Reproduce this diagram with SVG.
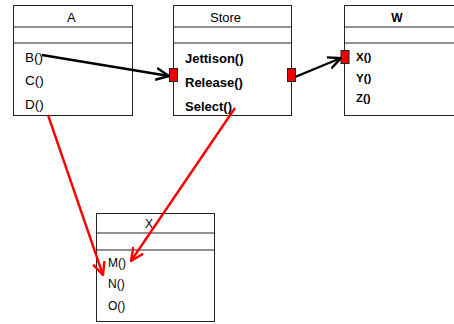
<svg xmlns="http://www.w3.org/2000/svg" width="454" height="324" viewBox="0 0 454 324">
  <style>
    .box { fill: #ffffff; stroke: #222222; stroke-width: 1; }
    .div { stroke: #222222; stroke-width: 1; }
    .t { font-family: "Liberation Sans", Arial, sans-serif; font-size: 13px; fill: #000000; }
    .b { font-weight: bold; }
    .m { font-size: 13.5px; }
    .s { font-size: 11.5px; }
    .xs { font-size: 12px; }
    .port { fill: #ee0000; stroke: #222222; stroke-width: 1; }
    .blk { stroke: #000000; stroke-width: 2.4; fill: none; }
    .red { stroke: #ff0000; stroke-width: 2.4; fill: none; }
  </style>
  <defs>
    <marker id="openBlack" viewBox="0 0 14 14" refX="13" refY="7" markerWidth="14" markerHeight="14" markerUnits="userSpaceOnUse" orient="auto">
      <path d="M0,1 L13,7 L0,13" fill="none" stroke="#000000" stroke-width="2.4"/>
    </marker>
    <marker id="openRed" viewBox="0 0 14 14" refX="13" refY="7" markerWidth="14" markerHeight="14" markerUnits="userSpaceOnUse" orient="auto">
      <path d="M0,1 L13,7 L0,13" fill="none" stroke="#ff0000" stroke-width="2.4"/>
    </marker>
  </defs>
  <rect width="454" height="324" fill="#ffffff"/>

  <g id="A">
    <rect class="box" x="13.5" y="5.5" width="119" height="110"/>
    <line class="div" x1="13.5" y1="27" x2="132.5" y2="27"/>
    <line class="div" x1="13.5" y1="43" x2="132.5" y2="43"/>
    <text class="t" x="67" y="22">A</text>
    <text class="t m" x="25" y="62">B()</text>
    <text class="t m" x="25" y="85">C()</text>
    <text class="t m" x="25" y="109">D()</text>
  </g>

  <g id="Store">
    <rect class="box" x="173.5" y="5.5" width="118" height="110"/>
    <line class="div" x1="173.5" y1="27" x2="291.5" y2="27"/>
    <line class="div" x1="173.5" y1="43" x2="291.5" y2="43"/>
    <text class="t" x="210" y="22">Store</text>
    <text class="t b" x="185" y="63">Jettison()</text>
    <text class="t b" x="185" y="87">Release()</text>
    <text class="t b" x="185" y="111">Select()</text>
    <rect class="port" x="169.5" y="68.5" width="8" height="13"/>
    <rect class="port" x="287.5" y="68.5" width="8" height="13"/>
  </g>

  <g id="W">
    <rect class="box" x="344.5" y="5.5" width="120" height="110"/>
    <line class="div" x1="344.5" y1="27" x2="464" y2="27"/>
    <line class="div" x1="344.5" y1="43" x2="464" y2="43"/>
    <text class="t b xs" x="397" y="22" text-anchor="middle">W</text>
    <text class="t b s" x="356" y="61">X()</text>
    <text class="t b s" x="356" y="82">Y()</text>
    <text class="t b s" x="356" y="102">Z()</text>
    <rect class="port" x="341" y="50.5" width="8" height="13"/>
  </g>

  <g id="X">
    <rect class="box" x="96.5" y="213.5" width="118" height="108"/>
    <line class="div" x1="96.5" y1="233" x2="214.5" y2="233"/>
    <line class="div" x1="96.5" y1="250" x2="214.5" y2="250"/>
    <text class="t xs" x="149" y="228" text-anchor="middle">X</text>
    <text class="t xs" x="108" y="267">M()</text>
    <text class="t xs" x="108" y="288">N()</text>
    <text class="t xs" x="108" y="310">O()</text>
  </g>

  <g id="connectors">
    <line class="blk" x1="42" y1="55" x2="169" y2="76" marker-end="url(#openBlack)"/>
    <line class="blk" x1="295" y1="77" x2="341" y2="58" marker-end="url(#openBlack)"/>
    <line class="red" x1="48" y1="115" x2="103" y2="275" marker-end="url(#openRed)"/>
    <line class="red" x1="235" y1="108" x2="131" y2="261" marker-end="url(#openRed)"/>
  </g>
</svg>
